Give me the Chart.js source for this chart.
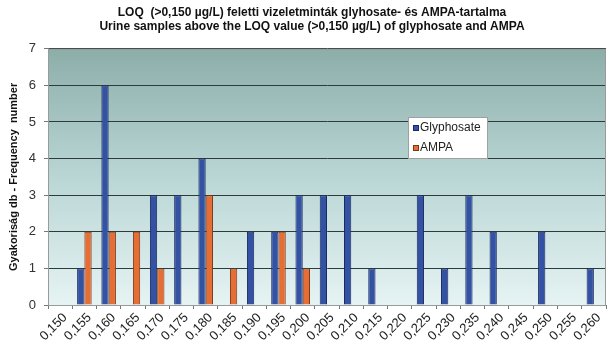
<!DOCTYPE html>
<html>
<head>
<meta charset="utf-8">
<script src="https://cdn.jsdelivr.net/npm/chart.js@4.4.1/dist/chart.umd.min.js"></script>
<style>
  html, body { margin: 0; padding: 0; background: #fff; }
  #wrap { width: 613px; height: 351px; }
</style>
</head>
<body>
<div id="wrap"><canvas id="c"></canvas></div>
<script>
const categories = [
  "0,150", "0,155", "0,160", "0,165", "0,170", "0,175", "0,180", "0,185",
  "0,190", "0,195", "0,200", "0,205", "0,210", "0,215", "0,220", "0,225",
  "0,230", "0,235", "0,240", "0,245", "0,250", "0,255", "0,260",
]
const glyphosate = [0, 1, 6, 0, 3, 3, 4, 0, 2, 2, 3, 3, 3, 1, 0, 3, 1, 3, 2, 0, 2, 0, 1]
const ampa = [0, 2, 2, 2, 1, 0, 3, 1, 0, 2, 1, 0, 0, 0, 0, 0, 0, 0, 0, 0, 0, 0, 0]
const yTicks = [0, 1, 2, 3, 4, 5, 6, 7]

const FONT = "'Liberation Sans', Arial, sans-serif"

// plot background gradient + frame
const plotBackground = {
  id: "plotBackground",
  beforeDraw(chart) {
    const { ctx, chartArea: a } = chart
    const g = ctx.createLinearGradient(0, a.top, 0, a.bottom)
    g.addColorStop(0, "#8caea9")
    g.addColorStop(0.5, "#b9d6d5")
    g.addColorStop(1, "#e6f3f3")
    ctx.save()
    ctx.fillStyle = g
    ctx.fillRect(a.left, a.top, a.right - a.left, a.bottom - a.top)
    ctx.restore()
  },
  afterDraw(chart) {
    const { ctx, chartArea: a } = chart
    ctx.save()
    ctx.strokeStyle = "#9a9a9a"
    ctx.lineWidth = 1
    ctx.strokeRect(a.left + 0.5, a.top + 0.5, a.right - a.left - 1, a.bottom - a.top)
    ctx.restore()
  },
}

// legend box placed inside the plot
const boxLegend = {
  id: "boxLegend",
  afterDraw(chart) {
    const { ctx } = chart
    const x = 408, y = 117, w = 79, h = 41
    ctx.save()
    ctx.fillStyle = "#fff"
    ctx.fillRect(x, y, w, h)
    ctx.strokeStyle = "#a0a0a0"
    ctx.strokeRect(x + 0.5, y + 0.5, w, h)
    ctx.font = "12px " + FONT
    ctx.textBaseline = "middle"
    chart.data.datasets.forEach((ds, i) => {
      const cy = y + 11 + i * 20
      ctx.fillStyle = ds.backgroundColor
      ctx.fillRect(x + 5, cy - 3, 6, 6)
      ctx.strokeStyle = ds.borderColor
      ctx.strokeRect(x + 5.5, cy - 2.5, 5, 5)
      ctx.fillStyle = "#222"
      ctx.fillText(ds.label, x + 12, cy)
    })
    ctx.restore()
  },
}

new Chart(document.getElementById("c"), {
  type: "bar",
  data: {
    labels: categories,
    datasets: [
      {
        label: "Glyphosate",
        data: glyphosate,
        backgroundColor: "#3352a3",
        borderColor: "#1b2a5e",
        borderWidth: 1,
        barPercentage: 1,
        categoryPercentage: 0.6,
      },
      {
        label: "AMPA",
        data: ampa,
        backgroundColor: "#e66d33",
        borderColor: "#7a3a18",
        borderWidth: 1,
        barPercentage: 1,
        categoryPercentage: 0.6,
      },
    ],
  },
  options: {
    animation: false,
    responsive: true,
    maintainAspectRatio: false,
    layout: { padding: { left: 18, right: 7, top: 0, bottom: 0 } },
    plugins: {
      legend: { display: false },
      tooltip: { enabled: false },
      title: {
        display: true,
        text: [
          "LOQ  (>0,150 µg/L) feletti vizeletminták glyhosate- és AMPA-tartalma",
          "Urine samples above the LOQ value (>0,150 µg/L) of glyphosate and AMPA",
        ],
        color: "#111",
        font: { family: FONT, size: 12, weight: "bold", lineHeight: 1.2 },
        padding: { top: 5, bottom: 15 },
      },
    },
    scales: {
      x: {
        grid: { drawOnChartArea: false, drawTicks: true, tickLength: 4, color: "#777", offset: true },
        border: { color: "#777" },
        ticks: {
          color: "#222",
          font: { family: FONT, size: 13 },
          minRotation: 45,
          maxRotation: 45,
          autoSkip: false,
          padding: 1,
          labelOffset: 5,
        },
        afterFit: (scale) => { scale.height = 46 },
      },
      y: {
        min: 0,
        max: 7,
        afterBuildTicks: (scale) => { scale.ticks = yTicks.map((v) => ({ value: v })) },
        grid: { color: "#2e3b3b", lineWidth: 1, tickLength: 4, tickColor: "#777" },
        border: { color: "#777" },
        ticks: {
          color: "#333",
          font: { family: FONT, size: 13 },
          padding: 8,
        },
        title: {
          display: true,
          text: "Gyakoriság db - Frequency  number",
          color: "#111",
          font: { family: FONT, size: 11, weight: "bold" },
          padding: { top: -11, bottom: 0 },
        },
        afterFit: (scale) => { scale.width = 30 },
      },
    },
  },
  plugins: [plotBackground, boxLegend],
})
</script>
</body>
</html>
